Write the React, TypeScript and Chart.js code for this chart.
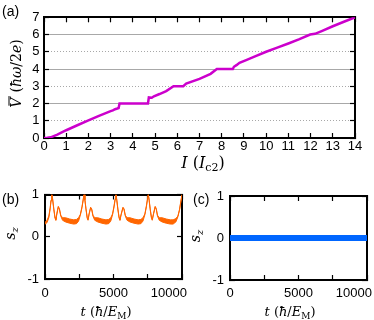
import React, { useEffect, useRef } from 'react';
import { Chart, registerables } from 'chart.js';

Chart.register(...registerables);

// ---------- Panel (a): mean voltage vs current ----------
const currentI = [0, 0.15, 0.3, 0.6, 1.0, 1.5, 2.0, 2.5, 3.0, 3.1, 3.2, 3.3, 3.36, 3.4, 4.0, 4.68, 4.72, 4.85, 4.95, 5.2, 5.5, 5.83, 6.0, 6.27, 6.4, 7.0, 7.5, 7.78, 8.2, 8.5, 8.55, 8.68, 8.8, 9.1, 9.5, 10.0, 10.5, 11.0, 11.5, 11.98, 12.2, 12.5, 13.0, 13.5, 14.0];
const voltageV = [0, 0.01, 0.04, 0.2, 0.45, 0.74, 1.02, 1.3, 1.56, 1.6, 1.67, 1.71, 1.74, 2.0, 2.0, 2.0, 2.35, 2.33, 2.42, 2.55, 2.72, 3.0, 3.0, 3.0, 3.15, 3.43, 3.72, 4.0, 4.0, 4.0, 4.13, 4.24, 4.36, 4.52, 4.73, 5.0, 5.24, 5.48, 5.73, 6.0, 6.04, 6.2, 6.48, 6.74, 7.0];

// ---------- Panel (b): s_z(t), envelope of the fast oscillation ----------
const timeB = [
  0, 150, 280, 380, 440, 500, 560, 640, 730, 790, 870, 970, 1050, 1150, 1280, 1500, 1800, 2100, 2300, 2450, 2580, 2700, 2790, 2850,
  2910, 2990, 3080, 3140, 3220, 3330, 3410, 3500, 3630, 3850, 4150, 4450, 4650, 4800, 4930, 5040, 5120, 5180,
  5240, 5320, 5410, 5470, 5560, 5690, 5770, 5860, 5990, 6200, 6500, 6800, 7000, 7150, 7290, 7400, 7480, 7540,
  7600, 7680, 7770, 7830, 7920, 8040, 8120, 8210, 8340, 8550, 8850, 9150, 9350, 9550, 9700, 9820, 9920, 10000,
];
const szHigh = [
  0.34, 0.39, 0.49, 0.69, 0.87, 1.0, 0.89, 0.67, 0.46, 0.41, 0.56, 0.72, 0.67, 0.51, 0.45, 0.45, 0.42, 0.40, 0.41, 0.45, 0.53, 0.71, 0.89, 1.0,
  0.89, 0.67, 0.46, 0.41, 0.55, 0.70, 0.66, 0.51, 0.45, 0.45, 0.42, 0.40, 0.41, 0.45, 0.54, 0.73, 0.90, 1.0,
  0.88, 0.66, 0.46, 0.41, 0.54, 0.70, 0.66, 0.51, 0.45, 0.45, 0.42, 0.40, 0.41, 0.45, 0.54, 0.73, 0.90, 1.0,
  0.88, 0.66, 0.46, 0.41, 0.55, 0.72, 0.67, 0.51, 0.45, 0.45, 0.42, 0.40, 0.40, 0.43, 0.49, 0.65, 0.85, 1.0,
];
const szLow = [
  0.29, 0.34, 0.45, 0.67, 0.85, 0.99, 0.87, 0.65, 0.44, 0.39, 0.54, 0.70, 0.65, 0.49, 0.39, 0.35, 0.32, 0.30, 0.31, 0.37, 0.51, 0.69, 0.87, 0.99,
  0.87, 0.65, 0.44, 0.39, 0.53, 0.68, 0.64, 0.49, 0.39, 0.35, 0.32, 0.30, 0.31, 0.37, 0.52, 0.71, 0.88, 0.99,
  0.86, 0.64, 0.44, 0.39, 0.52, 0.68, 0.64, 0.49, 0.39, 0.35, 0.32, 0.30, 0.31, 0.37, 0.52, 0.71, 0.88, 0.99,
  0.86, 0.64, 0.44, 0.39, 0.53, 0.70, 0.65, 0.49, 0.39, 0.35, 0.32, 0.30, 0.30, 0.35, 0.47, 0.63, 0.83, 0.99,
];

// ---------- Panel (c): s_z(t) stays at zero ----------
const timeC = [0, 2500, 5000, 7500, 10000];
const szC = [0, 0, 0, 0, 0];

// tick labels
const timeTickLabels = [0, 5000, 10000];

const MAGENTA = '#cc00cc';
const ORANGE = '#ff6600';
const BLUE = '#0066ff';

const SANS = '"Liberation Sans", Arial, Helvetica, sans-serif';
const SERIF = '"DejaVu Serif", serif';
const tickFont = { family: SANS, size: 13 };

type Part = { t?: string; f?: string; dy?: number; over?: boolean; gap?: number };

function drawRich(ctx: CanvasRenderingContext2D, parts: Part[], x: number, y: number, rot: number) {
  ctx.save();
  ctx.translate(x, y);
  if (rot) ctx.rotate(rot);
  const widths = parts.map((p) => {
    if (p.gap) return p.gap;
    ctx.font = p.f as string;
    return ctx.measureText(p.t || '').width;
  });
  const total = widths.reduce((a, b) => a + b, 0);
  let cx = -total / 2;
  ctx.fillStyle = '#000';
  ctx.textAlign = 'left';
  ctx.textBaseline = 'alphabetic';
  parts.forEach((p, i) => {
    if (!p.gap && p.t) {
      ctx.font = p.f as string;
      ctx.fillText(p.t, cx, p.dy || 0);
      if (p.over) ctx.fillRect(cx + 2, -12.5, widths[i] - 0.5, 1);
    }
    cx += widths[i];
  });
  ctx.restore();
}

const it = (s: number) => `italic ${s}px ${SERIF}`;
const up = (s: number) => `${s}px ${SERIF}`;

const yTitleA: Part[] = [
  { t: 'V', f: it(14), over: true },
  { gap: 5 },
  { t: '(', f: up(14) },
  { t: 'ħω', f: it(14) },
  { t: '/2', f: up(14) },
  { t: 'e', f: it(14) },
  { t: ')', f: up(14) },
];
const xTitleA: Part[] = [
  { t: 'I', f: it(16) },
  { t: ' (', f: up(16) },
  { t: 'I', f: it(16) },
  { t: 'c2', f: up(11), dy: 3 },
  { t: ')', f: up(16) },
];
const xTitleT: Part[] = [
  { t: 't', f: it(13) },
  { t: ' (', f: up(13) },
  { t: 'ħ', f: it(13) },
  { t: '/', f: up(13) },
  { t: 'E', f: it(13) },
  { t: 'M', f: up(9), dy: 2.5 },
  { t: ')', f: up(13) },
];
const szTitle: Part[] = [
  { t: 's', f: it(14) },
  { t: 'z', f: it(10), dy: 3 },
];

function panelLabel(ctx: CanvasRenderingContext2D, text: string, x: number, y: number) {
  ctx.save();
  ctx.fillStyle = '#000';
  ctx.font = `14px ${SANS}`;
  ctx.textAlign = 'left';
  ctx.textBaseline = 'alphabetic';
  ctx.fillText(text, x, y);
  ctx.restore();
}

function drawTimeTicks(chart: any, baseline: number) {
  const ctx: CanvasRenderingContext2D = chart.ctx;
  const s = chart.scales.x;
  const a = chart.chartArea;
  ctx.save();
  ctx.fillStyle = '#000';
  ctx.font = `13px ${SANS}`;
  ctx.textAlign = 'left';
  ctx.textBaseline = 'alphabetic';
  timeTickLabels.forEach((v) => {
    const text = String(v);
    const w = ctx.measureText(text).width;
    const px = s.getPixelForValue(v);
    let x = px - w / 2;
    x = Math.min(x, a.right + 5 - w);
    ctx.fillText(text, x, baseline);
  });
  ctx.restore();
}

function axis(pos: string, min: number, max: number, step: number, size: number, showLabels: boolean, pad: number, extra: any = {}) {
  const horizontal = pos === 'top' || pos === 'bottom';
  const base: any = {
    type: 'linear',
    position: pos,
    min,
    max,
    ticks: {
      stepSize: step,
      display: showLabels,
      color: '#000',
      font: tickFont,
      padding: pad,
      autoSkip: false,
      maxRotation: 0,
      minRotation: 0,
    },
    grid: {
      drawOnChartArea: false,
      drawTicks: true,
      tickLength: -5,
      tickColor: '#000',
      tickWidth: 1.2,
      color: 'transparent',
    },
    border: { display: true, color: '#000', width: 2 },
    afterFit: (s: any) => {
      if (horizontal) s.height = size;
      else s.width = size;
    },
  };
  if (extra.grid) base.grid = { ...base.grid, ...extra.grid };
  if (extra.border) base.border = { ...base.border, ...extra.border };
  return base;
}

const commonOpts = {
  responsive: false,
  animation: false as const,
  devicePixelRatio: 1,
  events: [] as any[],
  layout: { padding: 0 },
  plugins: { legend: { display: false }, tooltip: { enabled: false }, title: { display: false } },
};

function configA(): any {
  return {
    type: 'line',
    data: {
      datasets: [
        {
          data: currentI.map((x, i) => ({ x, y: voltageV[i] })),
          borderColor: MAGENTA,
          borderWidth: 2.5,
          pointRadius: 0,
          tension: 0,
          fill: false,
        },
      ],
    },
    options: {
      ...commonOpts,
      scales: {
        x: axis('bottom', 0, 14, 1, 37, true, 6),
        xTop: axis('top', 0, 14, 1, 8, false, 0),
        y: axis('left', 0, 7, 1, 44, true, 9.5, {
          grid: {
            drawOnChartArea: true,
            lineWidth: 1,
            color: (c: any) => {
              const v = c.tick ? c.tick.value : -1;
              return v > 0 && v < 7 ? '#a8a8a8' : 'transparent';
            },
          },
          border: {
            dash: (c: any) => (c.tick && c.tick.value % 2 === 1 ? [1, 2] : []),
          },
        }),
        yRight: axis('right', 0, 7, 1, 19, false, 0),
      },
    },
    plugins: [
      {
        id: 'annA',
        afterDraw(chart: any) {
          const ctx = chart.ctx;
          panelLabel(ctx, '(a)', 2, 15.5);
          drawRich(ctx, yTitleA, 21, 73.5, -Math.PI / 2);
          drawRich(ctx, xTitleA, 203, 168, 0);
        },
      },
    ],
  };
}

function configB(): any {
  return {
    type: 'line',
    data: {
      datasets: [
        {
          data: timeB.map((x, i) => ({ x, y: szHigh[i] })),
          borderColor: ORANGE,
          borderWidth: 1,
          pointRadius: 0,
          tension: 0,
          fill: false,
        },
        {
          data: timeB.map((x, i) => ({ x, y: szLow[i] })),
          borderColor: ORANGE,
          backgroundColor: ORANGE,
          borderWidth: 1,
          pointRadius: 0,
          tension: 0,
          fill: '-1',
        },
      ],
    },
    options: {
      ...commonOpts,
      scales: {
        x: axis('bottom', 0, 10000, 2500, 41, false, 0),
        xTop: axis('top', 0, 10000, 2500, 34.5, false, 0),
        y: axis('left', -1, 1, 1, 45, true, 11),
        yRight: axis('right', -1, 1, 1, 8, false, 0),
      },
    },
    plugins: [
      {
        id: 'annB',
        afterDraw(chart: any) {
          const ctx = chart.ctx;
          panelLabel(ctx, '(b)', 2, 43.5);
          drawRich(ctx, szTitle, 14.5, 73.5, -Math.PI / 2);
          drawRich(ctx, xTitleT, 106, 156, 0);
          drawTimeTicks(chart, 137);
        },
      },
    ],
  };
}

function configC(): any {
  return {
    type: 'line',
    data: {
      datasets: [
        {
          data: timeC.map((x, i) => ({ x, y: szC[i] })),
          borderColor: BLUE,
          borderWidth: 6,
          borderCapStyle: 'butt',
          pointRadius: 0,
          tension: 0,
          fill: false,
        },
      ],
    },
    options: {
      ...commonOpts,
      scales: {
        x: axis('bottom', 0, 10000, 2500, 40, false, 0),
        xTop: axis('top', 0, 10000, 2500, 36, false, 0),
        y: axis('left', -1, 1, 1, 43, true, 11),
        yRight: axis('right', -1, 1, 1, 7, false, 0),
      },
    },
    plugins: [
      {
        id: 'annC',
        afterDraw(chart: any) {
          const ctx = chart.ctx;
          panelLabel(ctx, '(c)', 6, 44);
          drawRich(ctx, szTitle, 13, 76, -Math.PI / 2);
          drawRich(ctx, xTitleT, 103, 156, 0);
          drawTimeTicks(chart, 137);
        },
      },
    ],
  };
}

export default function App() {
  const refA = useRef<HTMLCanvasElement>(null);
  const refB = useRef<HTMLCanvasElement>(null);
  const refC = useRef<HTMLCanvasElement>(null);

  useEffect(() => {
    const charts: Chart[] = [];
    if (refA.current) charts.push(new Chart(refA.current, configA()));
    if (refB.current) charts.push(new Chart(refB.current, configB()));
    if (refC.current) charts.push(new Chart(refC.current, configC()));
    return () => charts.forEach((c) => c.destroy());
  }, []);

  return (
    <div style={{ position: 'fixed', left: 0, top: 0, width: 374, height: 320, background: '#fff', overflow: 'hidden' }}>
      <canvas ref={refA} width={374} height={175} style={{ position: 'absolute', left: 0, top: 0, width: 374, height: 175 }} />
      <canvas ref={refB} width={190} height={160} style={{ position: 'absolute', left: 0, top: 160, width: 190, height: 160 }} />
      <canvas ref={refC} width={187} height={160} style={{ position: 'absolute', left: 187, top: 160, width: 187, height: 160 }} />
    </div>
  );
}
